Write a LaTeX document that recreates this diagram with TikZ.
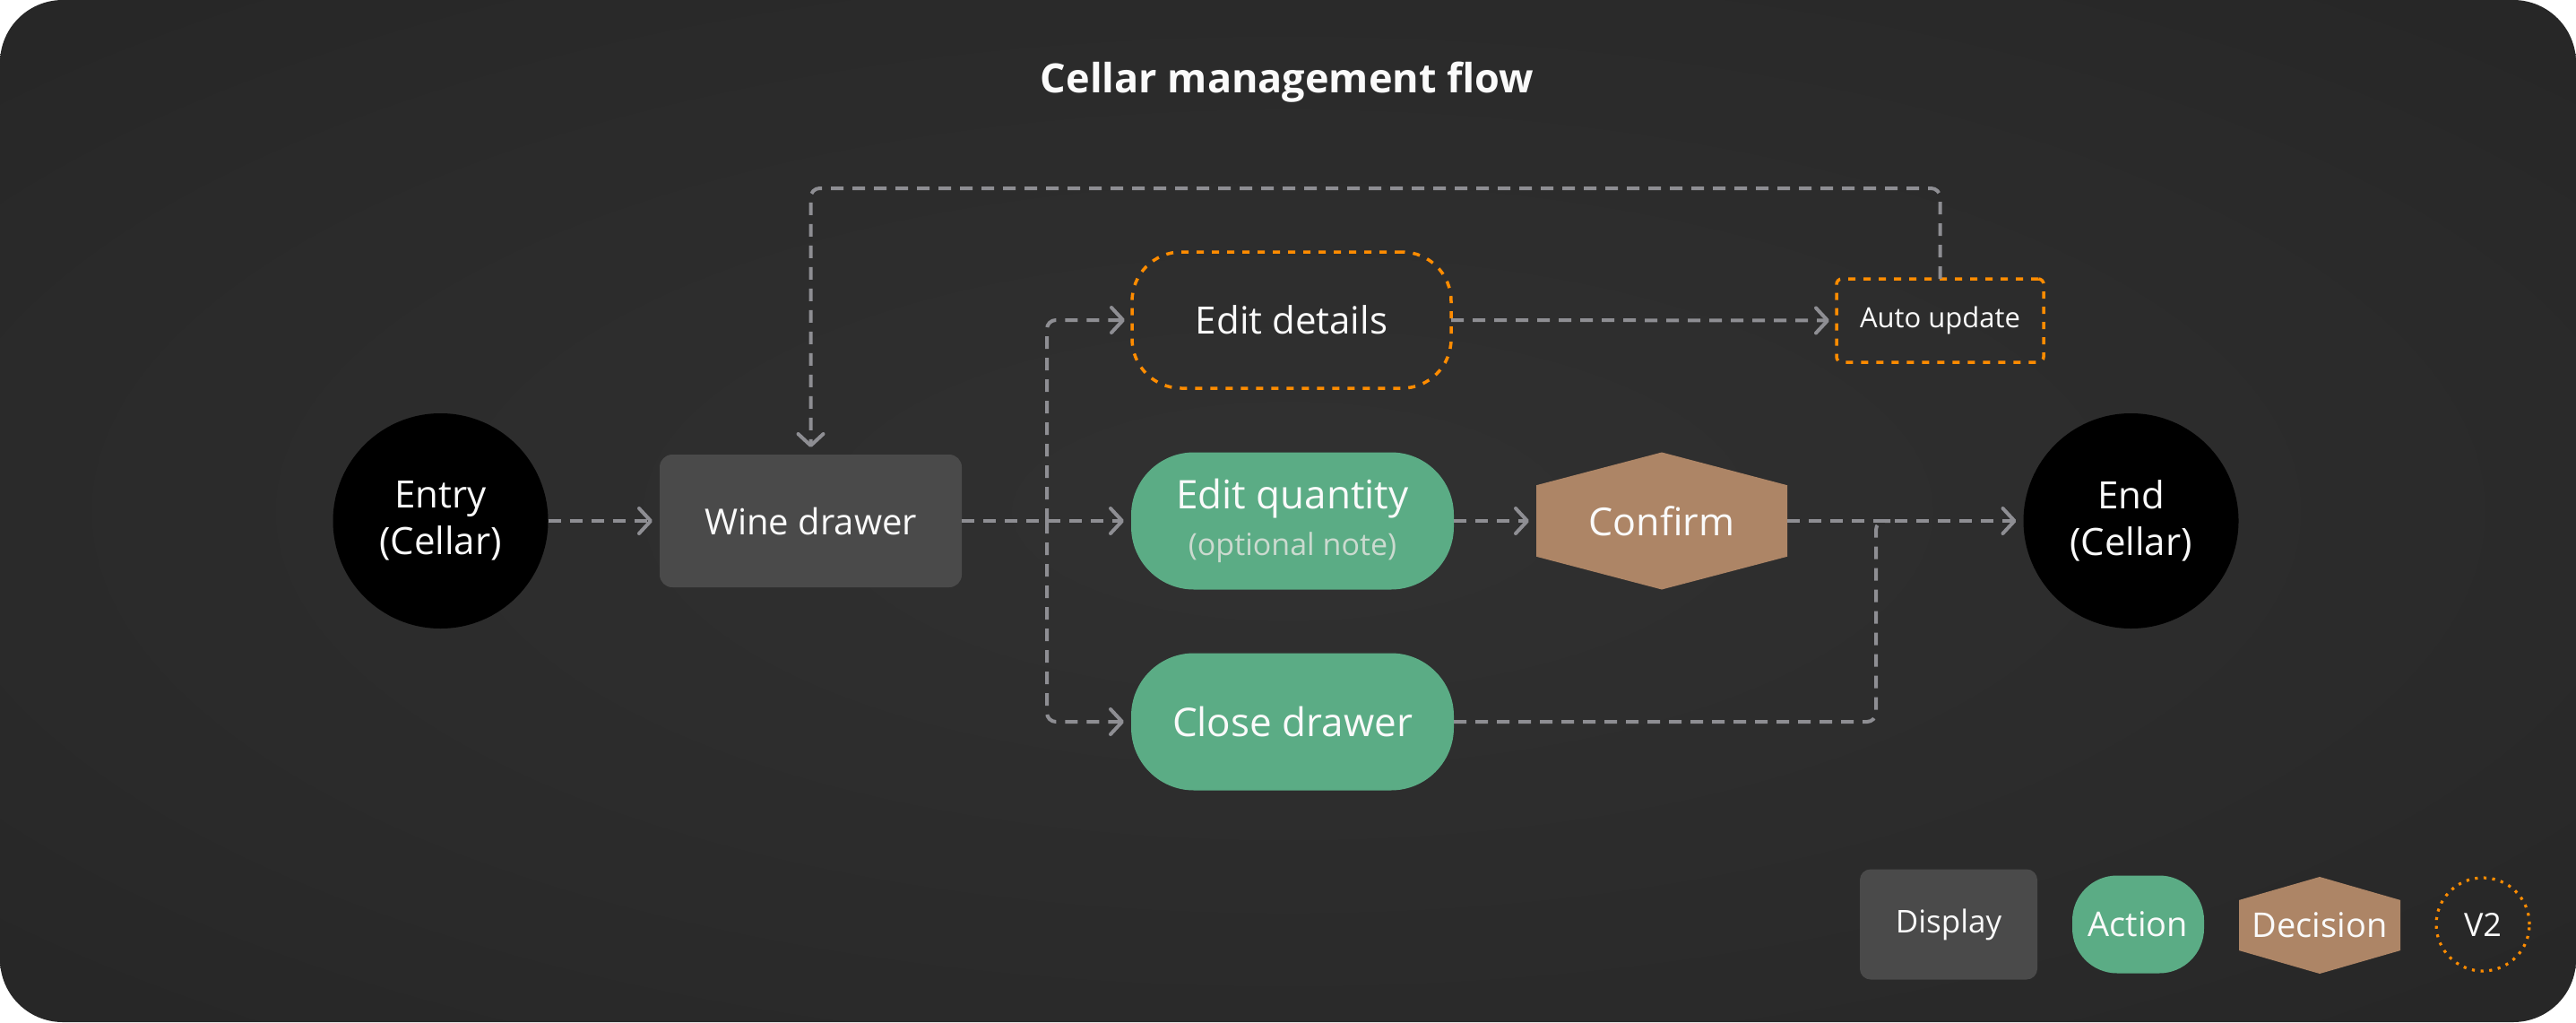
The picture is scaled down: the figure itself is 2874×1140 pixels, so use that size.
\documentclass[tikz,border=0pt]{standalone}
\usepackage{fontspec}
\setmainfont{Open Sans}
\usetikzlibrary{arrows.meta,calc}
\definecolor{bgin}{HTML}{313131}
\definecolor{bgmid}{HTML}{2A2A2A}
\definecolor{bgout}{HTML}{212121}
\definecolor{bgcorner}{HTML}{1A1A1A}
\definecolor{connc}{HTML}{8E8E93}
\definecolor{greenc}{HTML}{5BAC85}
\definecolor{brownc}{HTML}{AD8566}
\definecolor{dispc}{HTML}{4A4A4A}
\definecolor{orangec}{HTML}{FF8C00}
\definecolor{notec}{HTML}{CBDACF}
\definecolor{txt}{HTML}{FAFAFA}
\pgfdeclareradialshading{bgshade}{\pgfpoint{0bp}{0bp}}{color(0bp)=(bgin); color(25bp)=(bgmid); color(50bp)=(bgout); color(71bp)=(bgcorner)}
\newcommand{\fs}[2]{\fontsize{#1}{#2}\selectfont}
\begin{document}
\begin{tikzpicture}[x=1pt,y=-1pt,
  every node/.style={text=txt, inner sep=0pt, outer sep=0pt, align=center},
  term/.style={circle, fill=black, minimum size=240pt, font=\fs{42}{52}},
  dispbox/.style={rectangle, fill=dispc, rounded corners=14pt},
  actbox/.style={rectangle, fill=greenc, rounded corners=70pt, minimum width=360pt, minimum height=153pt},
  v2box/.style={draw=orangec, line width=3.5pt, dash pattern=on 8pt off 9pt},
  hexa/.style={rectangle, path picture={\fill[#1]
      (path picture bounding box.north)
      -- ($(path picture bounding box.north east)!0.24!(path picture bounding box.south east)$)
      -- ($(path picture bounding box.north east)!0.76!(path picture bounding box.south east)$)
      -- (path picture bounding box.south)
      -- ($(path picture bounding box.north west)!0.76!(path picture bounding box.south west)$)
      -- ($(path picture bounding box.north west)!0.24!(path picture bounding box.south west)$)
      -- cycle;}},
  conn/.style={draw=connc, line width=4pt, dash pattern=on 14pt off 10pt, rounded corners=10pt},
  arr/.style={conn, -{Straight Barb[length=13pt,width=28pt,line width=4pt,round]}, shorten >=8pt}
]
\useasboundingbox (0,0) rectangle (2874,1140);
\fill[white] (0,0) rectangle (2874,1140);
\path[shading=bgshade, rounded corners=70pt] (0,0) rectangle (2874,1140);

% title
\node (title) at (1436,92) {\bfseries\fs{45}{54}Cellar management flow};

% main nodes
\node[term] (entry) at (491.5,581) {Entry\\(Cellar)};
\node[dispbox, minimum width=337pt, minimum height=148pt, font=\fs{40}{50}] (wd) at (904.5,581) {Wine drawer};
\node[v2box, rounded corners=55pt, minimum width=356pt, minimum height=152pt, font=\fs{42}{52}] (ed) at (1441,357) {Edit details};
\node[v2box, rounded corners=6pt, minimum width=231pt, minimum height=93pt, font=\fs{31}{38}] (au) at (2164.5,357.5) {Auto update};
\node[actbox, font=\fs{44}{52}] (eq) at (1442,581) {Edit quantity\\{\fs{34}{40}\color{notec}(optional note)}};
\node[hexa=brownc, minimum width=280pt, minimum height=153pt, font=\fs{43}{52}] (cf) at (1854,581) {Confirm};
\node[term] (en) at (2377.5,581) {End\\(Cellar)};
\node[actbox, font=\fs{44}{52}] (cd) at (1442,805) {Close drawer};

% legend
\node[dispbox, rounded corners=12pt, minimum width=198pt, minimum height=123pt, font=\fs{35}{42}] (ldisp) at (2174,1031) {Display};
\node[rectangle, fill=greenc, rounded corners=50pt, minimum width=147pt, minimum height=109pt, font=\fs{38}{46}] (lact) at (2385.5,1031) {Action};
\node[hexa=brownc, minimum width=180pt, minimum height=108pt, font=\fs{38}{46}] (ldec) at (2588,1032) {Decision};
\node[circle, draw=orangec, line width=3.2pt, dash pattern=on 3.2pt off 6.5pt, minimum size=104pt, font=\fs{36}{44}] (lv2) at (2770,1031) {V2};

% connectors
\draw[arr] (entry.east) -- (wd.west);
\draw[arr] (wd.east) -- (eq.west);
\coordinate (br) at (1168,581);
\draw[arr] (br) |- (ed.west);
\draw[arr] (br) |- (cd.west);
\draw[arr] (ed.east) -- (au.west);
\coordinate (toprow) at (0,210);
\draw[arr] (au.north) |- (wd.north |- toprow) -- (wd.north);
\draw[arr] (eq.east) -- (cf.west);
\draw[arr] (cf.east) -- (en.west);
\coordinate (mj) at (2093,581);
\draw[conn] (cd.east) -| (mj) -- ++(16,0);
\end{tikzpicture}
\end{document}
